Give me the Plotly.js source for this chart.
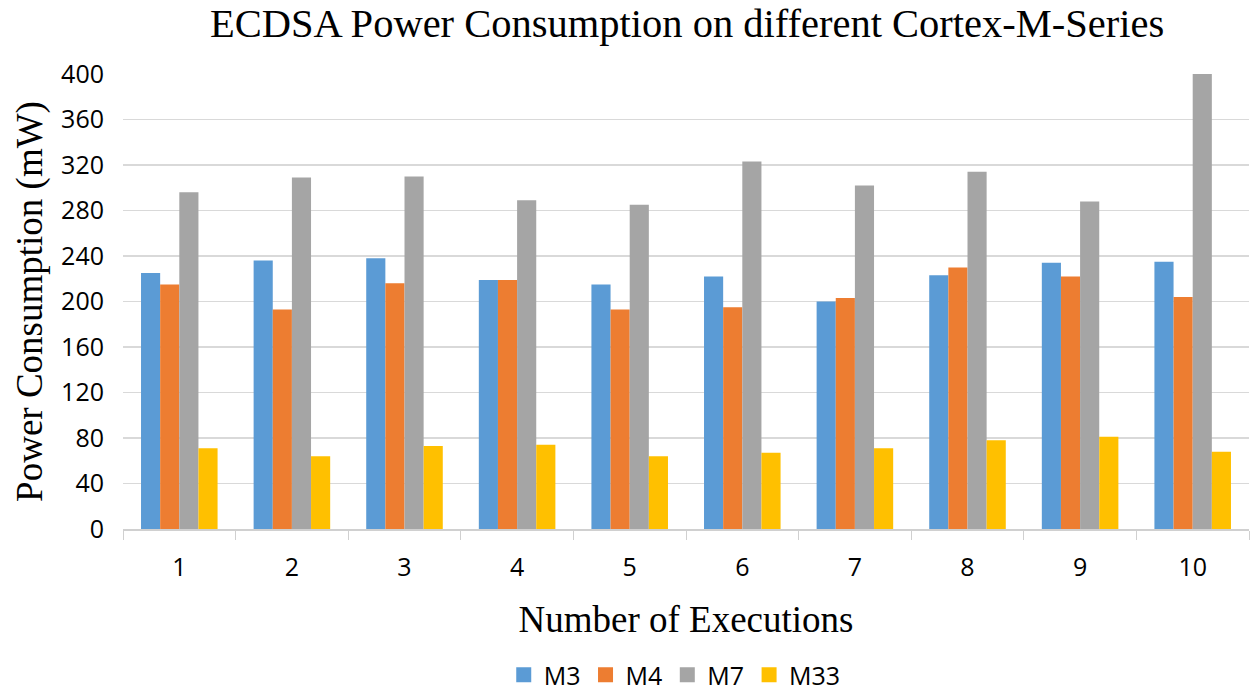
<!DOCTYPE html>
<html>
<head>
<meta charset="utf-8">
<script src="https://cdn.plot.ly/plotly-3.0.1.min.js"></script>
<style>html,body{margin:0;padding:0;background:#fff;}#chart{width:1255px;height:698px;}</style>
</head>
<body>
<div id="chart"></div>
<script>
const executions = ["1","2","3","4","5","6","7","8","9","10"];
const seriesNames = ["M3","M4","M7","M33"];
const m3 = [225, 236, 238, 219, 215, 222, 200, 223, 234, 235];
const m4 = [215, 193, 216, 219, 193, 195, 203, 230, 222, 204];
const m7 = [296, 309, 310, 289, 285, 323, 302, 314, 288, 400];
const m33 = [71, 64, 73, 74, 64, 67, 71, 78, 81, 68];
const yTicks = [0,40,80,120,160,200,240,280,320,360,400];
const colors = ["#5B9BD5","#ED7D31","#A5A5A5","#FFC000"];

const values = [m3, m4, m7, m33];
const bars = values.map((v, i) => ({
  type: "bar",
  name: seriesNames[i],
  x: executions,
  y: v,
  marker: {color: colors[i]},
  showlegend: false,
  legendgroup: seriesNames[i]
}));
const legendKeys = seriesNames.map((n, i) => ({
  type: "scatter",
  mode: "markers",
  name: n,
  x: [null],
  y: [null],
  marker: {symbol: "square", size: 15, color: colors[i]},
  legendgroup: n,
  showlegend: true
}));

const serif = "Liberation Serif, Times New Roman, serif";
const sans = "Open Sans, Liberation Sans, sans-serif";

const layout = {
  width: 1255,
  height: 698,
  paper_bgcolor: "#ffffff",
  plot_bgcolor: "#ffffff",
  margin: {l: 123, r: 6, t: 74, b: 169},
  barmode: "group",
  bargap: 0.32,
  bargroupgap: 0,
  title: {
    text: "ECDSA Power Consumption on different Cortex-M-Series",
    font: {family: serif, size: 40.5, color: "#000000"},
    x: 0.5475, xanchor: "center",
    y: 0.968, yanchor: "middle"
  },
  xaxis: {
    type: "category",
    tickson: "boundaries",
    ticks: "outside",
    ticklen: 9,
    tickcolor: "#d0d0d0",
    showline: true,
    linecolor: "#d0d0d0",
    linewidth: 1.5,
    showgrid: false,
    tickfont: {family: sans, size: 25, color: "#000000"},
    ticklabelstandoff: 15,
    title: {text: "Number of Executions", font: {family: serif, size: 37, color: "#000000"}, standoff: 24},
    automargin: false
  },
  yaxis: {
    range: [0, 400],
    tickvals: yTicks,
    ticktext: yTicks.map(String),
    showgrid: true,
    gridcolor: "#d9d9d9",
    gridwidth: 1.5,
    zeroline: false,
    showline: false,
    ticks: "",
    ticklabelstandoff: 18,
    tickfont: {family: sans, size: 25, color: "#000000"},
    title: {text: "Power Consumption (mW)", font: {family: serif, size: 37, color: "#000000"}, standoff: 7},
    automargin: false
  },
  legend: {
    orientation: "h",
    x: 0.49, xanchor: "center",
    yref: "container",
    y: 0.0, yanchor: "bottom",
    font: {family: sans, size: 25, color: "#000000"},
    itemwidth: 30,
    traceorder: "normal"
  },
  showlegend: true
};

Plotly.newPlot("chart", bars.concat(legendKeys), layout, {displayModeBar: false, staticPlot: true});
</script>
</body>
</html>
